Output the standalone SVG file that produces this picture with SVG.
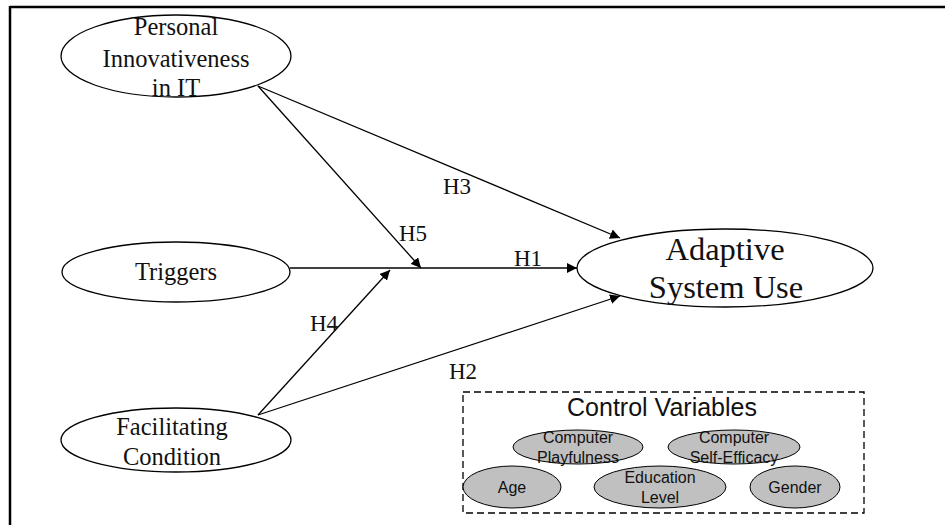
<svg xmlns="http://www.w3.org/2000/svg" width="945" height="525" viewBox="0 0 945 525">
<style>
.main{fill:#fff;stroke:#000;stroke-width:1.3}
.ctl{fill:#c0c0c0;stroke:#000;stroke-width:1}
.t{font-family:"Liberation Serif",serif;fill:#111;text-anchor:middle}
.s{font-family:"Liberation Sans",sans-serif;fill:#111;text-anchor:middle}
.c{stroke:#000;stroke-width:1.3;fill:none}
</style>
<defs>
<marker id="ah" viewBox="0 0 10 10" refX="10" refY="5" markerWidth="10" markerHeight="10" markerUnits="userSpaceOnUse" orient="auto">
<path d="M0,0 L10,5 L0,10 Z" fill="#000"/>
</marker>
</defs>
<rect width="945" height="525" fill="#fff"/>
<g id="frame">
<line x1="10" y1="7" x2="945" y2="7" stroke="#000" stroke-width="2.5"/>
<line x1="10" y1="6" x2="10" y2="525" stroke="#000" stroke-width="2.5"/>
</g>
<g id="connectors">
<line class="c" x1="258" y1="86" x2="620" y2="238" marker-end="url(#ah)"/>
<line class="c" x1="258" y1="86" x2="421" y2="268" marker-end="url(#ah)"/>
<line class="c" x1="290" y1="268" x2="577" y2="268" marker-end="url(#ah)"/>
<line class="c" x1="258" y1="415" x2="390" y2="270" marker-end="url(#ah)"/>
<line class="c" x1="258" y1="415" x2="620" y2="296" marker-end="url(#ah)"/>
<text class="t" x="457" y="194" font-size="23">H3</text>
<text class="t" x="413" y="241" font-size="23">H5</text>
<text class="t" x="528" y="266" font-size="23">H1</text>
<text class="t" x="324" y="331" font-size="23">H4</text>
<text class="t" x="463" y="379" font-size="23">H2</text>
</g>
<g id="pi">
<ellipse class="main" cx="176" cy="56" rx="115" ry="41"/>
<text class="t" x="176" y="35" font-size="24.5">Personal</text>
<text class="t" x="176" y="67" font-size="24.5">Innovativeness</text>
<text class="t" x="176" y="96" font-size="24.5">in IT</text>
</g>
<g id="triggers">
<ellipse class="main" cx="176" cy="272" rx="114" ry="30"/>
<text class="t" x="176" y="280" font-size="24.5">Triggers</text>
</g>
<g id="fc">
<ellipse class="main" cx="176" cy="440" rx="115" ry="32"/>
<text class="t" x="172" y="435" font-size="24.5">Facilitating</text>
<text class="t" x="172" y="465" font-size="24.5">Condition</text>
</g>
<g id="asu">
<ellipse class="main" cx="725" cy="268" rx="148" ry="39"/>
<text class="t" x="725" y="260" font-size="32.5">Adaptive</text>
<text class="t" x="726" y="298" font-size="32.5">System Use</text>
</g>
<g id="controls">
<rect x="463" y="392" width="401" height="121" fill="none" stroke="#000" stroke-width="1.3" stroke-dasharray="7,4"/>
<text class="s" x="662" y="416" font-size="25">Control Variables</text>
</g>
<g id="cp">
<ellipse class="ctl" cx="578" cy="447" rx="65" ry="17"/>
<text class="s" x="578" y="443" font-size="16">Computer</text>
<text class="s" x="578" y="463" font-size="16">Playfulness</text>
</g>
<g id="cse">
<ellipse class="ctl" cx="734" cy="447" rx="66" ry="17"/>
<text class="s" x="734" y="443" font-size="16">Computer</text>
<text class="s" x="734" y="463" font-size="16">Self-Efficacy</text>
</g>
<g id="age">
<ellipse class="ctl" cx="512" cy="487" rx="49" ry="21"/>
<text class="s" x="512" y="493" font-size="16">Age</text>
</g>
<g id="edu">
<ellipse class="ctl" cx="660" cy="487" rx="66" ry="21"/>
<text class="s" x="660" y="483" font-size="16">Education</text>
<text class="s" x="660" y="503" font-size="16">Level</text>
</g>
<g id="gender">
<ellipse class="ctl" cx="795" cy="487" rx="45" ry="21"/>
<text class="s" x="795" y="493" font-size="16">Gender</text>
</g>
</svg>
